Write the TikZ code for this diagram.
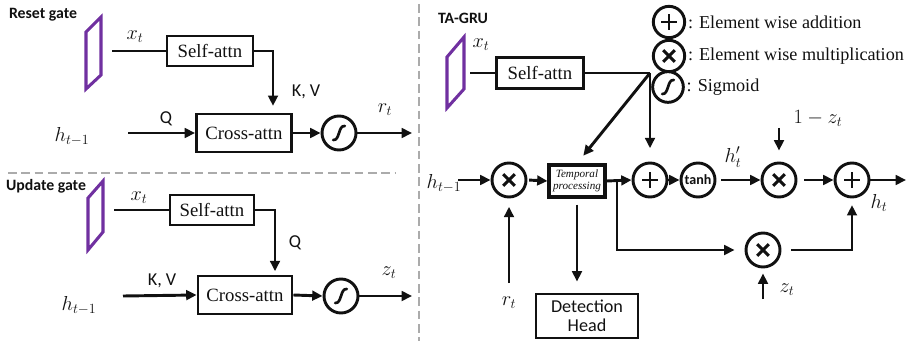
\documentclass[tikz,border=0pt]{standalone}
\usepackage{amsmath}
\usepackage{fontspec}
\setmainfont{Liberation Serif}
\newfontfamily\GRUSansFont{Carlito}
\usetikzlibrary{arrows.meta,calc,positioning}
\definecolor{FigPurple}{HTML}{7030A0}
\definecolor{FigDark}{HTML}{111111}
\definecolor{FigGrid}{HTML}{ABABAB}
\newcommand{\GRUTitle}{\GRUSansFont\fontsize{13.5}{15}\selectfont\bfseries}
\newcommand{\GRUText}{\fontsize{16}{18}\selectfont}
\newcommand{\GRULegend}{\fontsize{15.5}{17}\selectfont}
\newcommand{\GRUSans}{\GRUSansFont\fontsize{15.5}{16.5}\selectfont}
\newcommand{\GRUMath}{\fontsize{17.28}{19}\selectfont}
\newcommand{\GRUTiny}{\fontsize{9.5}{10.5}\selectfont\itshape}
\newcommand{\GRUTanh}{\GRUSansFont\fontsize{12}{13}\selectfont\bfseries}
\tikzset{
  gbase/.style={
    draw=FigDark,
    line width=2.5pt,
    align=center,
    inner sep=1pt,
    text=FigDark,
    font=\GRUText
  },
  attnbox/.style={gbase, rectangle},
  procbox/.style={
    gbase,
    rectangle,
    line width=2.6pt,
    inner sep=0pt,
    font=\GRUTiny,
    minimum width=16.8mm,
    minimum height=9.6mm
  },
  headbox/.style={
    gbase,
    rectangle,
    font=\GRUSans,
    minimum width=30.6mm,
    minimum height=13.2mm
  },
  opcircle/.style={
    circle,
    draw=FigDark,
    line width=2.5pt,
    fill=white,
    inner sep=0pt,
    minimum size=10.2mm
  },
  addcircle/.style={
    opcircle,
    path picture={
      \draw[line width=2.5pt] ([xshift=-6.5pt]path picture bounding box.center) -- ([xshift=6.5pt]path picture bounding box.center);
      \draw[line width=2.5pt] ([yshift=-6.5pt]path picture bounding box.center) -- ([yshift=6.5pt]path picture bounding box.center);
    }
  },
  mulcircle/.style={
    opcircle,
    path picture={
      \draw[line width=2.5pt] ([shift={(-5pt,-5pt)}]path picture bounding box.center) -- ([shift={(5pt,5pt)}]path picture bounding box.center);
      \draw[line width=2.5pt] ([shift={(-5pt,5pt)}]path picture bounding box.center) -- ([shift={(5pt,-5pt)}]path picture bounding box.center);
    }
  },
  sigcircle/.style={
    opcircle,
    path picture={
      \draw[line width=2.3pt, line cap=round] ([shift={(-5pt,-6pt)}]path picture bounding box.center)
        .. controls ([shift={(1pt,-6.5pt)}]path picture bounding box.center) and ([shift={(-1pt,6.5pt)}]path picture bounding box.center)
        .. ([shift={(5pt,6pt)}]path picture bounding box.center);
    }
  },
  tanhcircle/.style={opcircle, font=\GRUTanh, text=FigDark},
  inputbar/.style={draw=FigPurple, line width=2.6pt, line join=miter},
  sepline/.style={draw=FigGrid, line width=2.4pt, dash pattern=on 2.6mm off 1.4mm},
  plainline/.style={draw=FigDark, line width=2.5pt},
  mainarrow/.style={
    -{Triangle[length=3.1mm,width=2.9mm]},
    draw=FigDark,
    line width=2.5pt
  },
  arrowlabel/.style={inner sep=0pt, text=FigDark, font=\GRUSans},
  mathlabel/.style={inner sep=0pt, text=FigDark, font=\GRUMath},
  gatetitle/.style={inner sep=0pt, text=FigDark, font=\GRUTitle},
  legendtext/.style={inner sep=0pt, anchor=west, text=FigDark, font=\GRULegend}
}

\begin{document}
\begin{tikzpicture}[x=0.3mm,y=-0.3mm]
\path[use as bounding box] (0,0) rectangle (907,341);

% reset gate
\node[gatetitle] (rtitle) at (43,15) {Reset gate};
\draw[inputbar] (86,32) -- (101,17) -- (101,75) -- (86,89) -- cycle;
\coordinate (rxin) at (112,51);
\node[mathlabel] (rxlab) at (135,37) {$x_t$};
\node[attnbox, minimum width=25.8mm, minimum height=9mm] (rself) at (210,51) {Self-attn};
\node[attnbox, minimum width=28.5mm, minimum height=11.4mm] (rcross) at (244,133) {Cross-attn};
\node[sigcircle] (rsig) at (339,133) {};
\node[mathlabel] (rhlab) at (72,137) {$h_{t-1}$};
\coordinate (rhin) at (128,133);
\coordinate (rout) at (412,133);
\node[arrowlabel] (rq) at (166,119) {Q};
\node[arrowlabel] (rkv) at (306,92) {K, V};
\node[mathlabel] (rrlab) at (385,110) {$r_t$};

\draw[plainline] (rxin) -- (rself.west);
\draw[mainarrow, shorten >=2mm] (rself.east) -| ([xshift=8.7mm]rcross.north);
\draw[mainarrow] (rhin) -- (rcross.west);
\draw[mainarrow] (rcross.east) -- (rsig.west);
\draw[mainarrow] (rsig.east) -- (rout);

% separators
\coordinate (hsepL) at (8,173);
\coordinate (hsepR) at (395,173);
\coordinate (vsepT) at (419,4);
\coordinate (vsepB) at (419,341);
\draw[sepline] (hsepL) -- (hsepR);
\draw[sepline] (vsepT) -- (vsepB);

% update gate
\node[gatetitle] (utitle) at (46,186) {Update gate};
\draw[inputbar] (88,198) -- (103,181) -- (103,232) -- (88,250) -- cycle;
\coordinate (uxin) at (114,210);
\node[mathlabel] (uxlab) at (139,198) {$x_t$};
\node[attnbox, minimum width=25.2mm, minimum height=9mm] (uself) at (212,210) {Self-attn};
\node[attnbox, minimum width=28.2mm, minimum height=11.4mm] (ucross) at (245,295) {Cross-attn};
\node[sigcircle] (usig) at (341,296) {};
\node[mathlabel] (uhlab) at (79,306) {$h_{t-1}$};
\coordinate (uhin) at (123,296);
\coordinate (uout) at (412,296);
\node[arrowlabel] (uq) at (295,243) {Q};
\node[arrowlabel] (ukv) at (162,281) {K, V};
\node[mathlabel] (uzlab) at (389,273) {$z_t$};

\draw[plainline] (uxin) -- (uself.west);
\draw[mainarrow, shorten >=1mm] (uself.east) -| ([xshift=9mm]ucross.north);
\draw[mainarrow] (uhin) -- (ucross.west);
\draw[mainarrow] (ucross.east) -- (usig.west);
\draw[mainarrow] (usig.east) -- (uout);

% TA-GRU
\node[gatetitle] (ttitle) at (463,18) {TA-GRU};
\draw[inputbar] (447,57) -- (464,37) -- (464,89) -- (447,108) -- cycle;
\node[mathlabel] (txlab) at (481,45) {$x_t$};
\coordinate (txin) at (470,73);
\node[attnbox, minimum width=26.1mm, minimum height=9.3mm] (tself) at (540,73) {Self-attn};
\coordinate (tsplit) at (650,73);

\node[mathlabel] (thlab) at (444,184) {$h_{t-1}$};
\coordinate (thin) at (458,180);
\node[mulcircle] (mul1) at (509,180) {};
\node[procbox] (tproc) at (577,181) {Temporal\\processing};
\coordinate (tjoin) at (617,180);
\node[addcircle] (add1) at (650,180) {};
\node[tanhcircle] (tanh) at (698,180) {tanh};
\node[mulcircle] (mul2) at (779,180) {};
\node[addcircle] (add2) at (852,180) {};
\node[mulcircle] (mul3) at (763,250) {};
\node[headbox] (head) at (587,316) {Detection\\Head};
\coordinate (tout) at (906,180);

\node[mathlabel] (trlab) at (509,303) {$r_t$};
\coordinate (trin) at (509,283);
\node[mathlabel] (tzlab) at (787,290) {$z_t$};
\coordinate (tzin) at (763,299);
\node[mathlabel] (t1zlab) at (818,118) {$1-z_t$};
\coordinate (t1zin) at (779,128);
\node[mathlabel] (thplab) at (733,157) {$h'_t$};
\node[mathlabel] (thtlab) at (879,203) {$h_t$};

\draw[plainline] (txin) -- (tself.west);
\draw[plainline] (tself.east) -- (tsplit);
\draw[mainarrow, shorten >=3mm] (tsplit) -- (tproc.north);
\draw[mainarrow, shorten >=4mm] (tsplit) -- (add1.north);
\draw[mainarrow] (thin) -- (mul1.west);
\draw[mainarrow, shorten <=0.5mm] (mul1.east) -- (tproc.west);
\draw[mainarrow, shorten >=2.5mm] (trin) -- (mul1.south);
\draw[mainarrow, shorten <=1.8mm, shorten >=3.3mm] (tproc.south) -- (tproc.south |- head.north);
\draw[mainarrow] (tproc.east) -- (add1.west);
\draw[mainarrow, shorten >=3mm] (tjoin) |- (mul3.west);
\draw[mainarrow] (add1.east) -- (tanh.west);
\draw[mainarrow, shorten <=1.5mm] (tanh.east) -- (mul2.west);
\draw[mainarrow, shorten >=3.3mm] (t1zin) -- (mul2.north);
\draw[mainarrow, shorten <=2mm] (mul2.east) -- (add2.west);
\draw[mainarrow, shorten <=3mm, shorten >=2mm] (mul3.east) -| (add2.south);
\draw[mainarrow, shorten >=1.5mm] (tzin) -- (mul3.south);
\draw[mainarrow] (add2.east) -- (tout);

% legend
\node[addcircle, minimum size=9.4mm] (ladd) at (669,22) {};
\node[mulcircle, minimum size=9.4mm] (lmul) at (669,56) {};
\node[sigcircle, minimum size=9.2mm] (lsig) at (668,87) {};
\node[legendtext, right=0.5mm of ladd] (laddtxt) {: Element wise addition};
\node[legendtext, right=0.5mm of lmul] (lmultxt) {: Element wise multiplication};
\node[legendtext, right=0.5mm of lsig] (lsigtxt) {: Sigmoid};

\end{tikzpicture}
\end{document}
